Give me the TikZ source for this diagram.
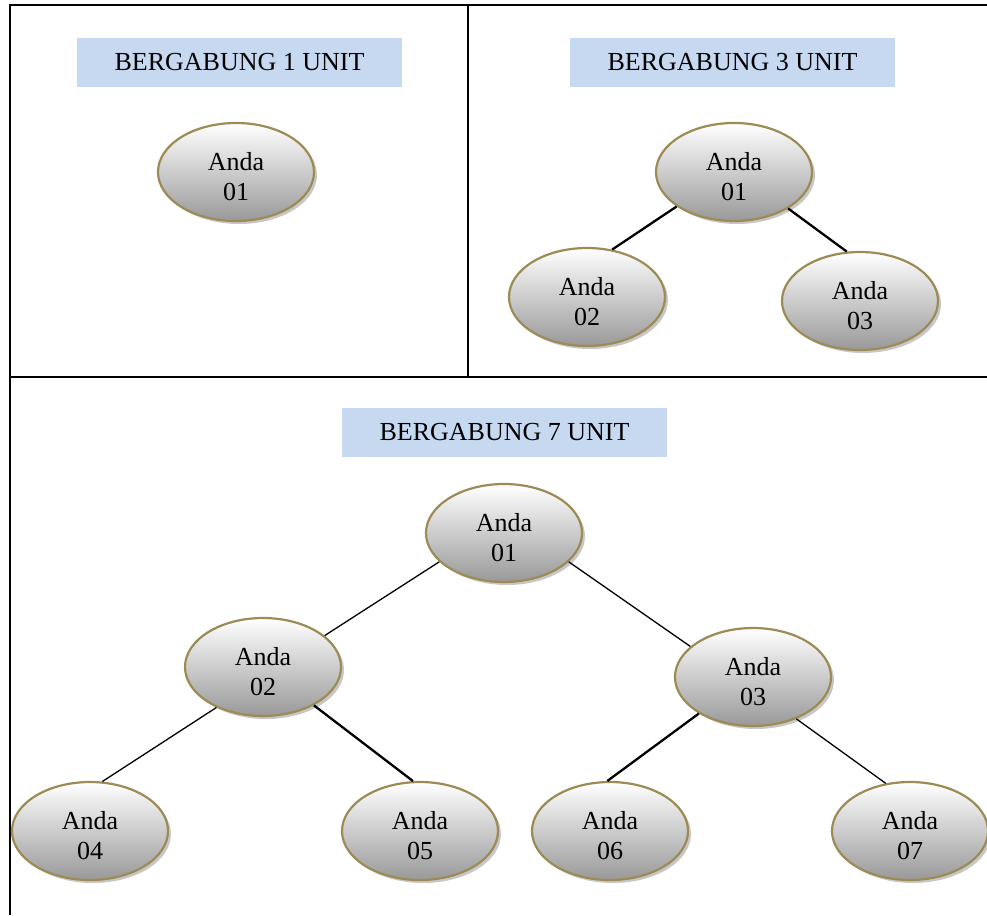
\documentclass[tikz,border=0pt]{standalone}
\usepackage{fontspec}
\setmainfont{Liberation Serif}
\usetikzlibrary{shapes.geometric,shadows}
\definecolor{olivebd}{HTML}{9C8B55}
\definecolor{hdrblue}{HTML}{C6D9F1}
\newcommand\andatxt[1]{\rule{0pt}{28pt}Anda\\#1}
\tikzset{
  unit/.style={ellipse, draw=olivebd, line width=2.2pt, minimum width=156pt, minimum height=98pt,
    inner sep=0pt, top color=white, bottom color=black!40, align=center,
    font=\fontsize{26}{30}\selectfont,
    drop shadow={shadow xshift=3pt, shadow yshift=-3pt, fill=black!22, opacity=1}},
  hdr/.style={fill=hdrblue, minimum width=325pt, minimum height=49pt, inner sep=0pt,
    font=\fontsize{26}{28}\selectfont},
  tbl/.style={line width=2pt},
  thin/.style={line width=1.3pt},
  thick/.style={line width=2.3pt}
}
\begin{document}
\begin{tikzpicture}[x=1pt,y=-1pt]
\useasboundingbox (0,0) rectangle (987,915);
% table
\draw[tbl] (10,915) -- (10,5) -- (987,5);
\draw[tbl] (468,5) -- (468,377);
\draw[tbl] (10,377) -- (987,377);
% headers
\node[hdr] (h1) at (239.5,62.5) {BERGABUNG 1 UNIT};
\node[hdr] (h3) at (732.5,62.5) {BERGABUNG 3 UNIT};
\node[hdr] (h7) at (504.5,432.5) {BERGABUNG 7 UNIT};
% 1 unit
\node[unit] (a1) at (236,172) {\andatxt{01}};
% 3 unit
\node[unit] (b1) at (734,172) {\andatxt{01}};
\node[unit] (b2) at (587,297) {\andatxt{02}};
\node[unit] (b3) at (860,301) {\andatxt{03}};
% 7 unit
\node[unit] (c1) at (504,533) {\andatxt{01}};
\node[unit] (c2) at (263,667) {\andatxt{02}};
\node[unit] (c3) at (753,677) {\andatxt{03}};
\node[unit] (c4) at (90,831) {\andatxt{04}};
\node[unit] (c5) at (420,831) {\andatxt{05}};
\node[unit] (c6) at (610,831) {\andatxt{06}};
\node[unit] (c7) at (910,831) {\andatxt{07}};
% connectors
\draw[thick] (b1.211) -- (b2.62);
\draw[thick] (b1.-34) -- (b3.105);
\draw[thin] (c1.204) -- (c2.27);
\draw[thin] (c1.-24) -- (c3.154);
\draw[thin] (c2.221) -- (c4.76);
\draw[thick] (c2.-37) -- (c5.98);
\draw[thick] (c3.214) -- (c6.93);
\draw[thin] (c3.-44) -- (c7.117);
\end{tikzpicture}
\end{document}
